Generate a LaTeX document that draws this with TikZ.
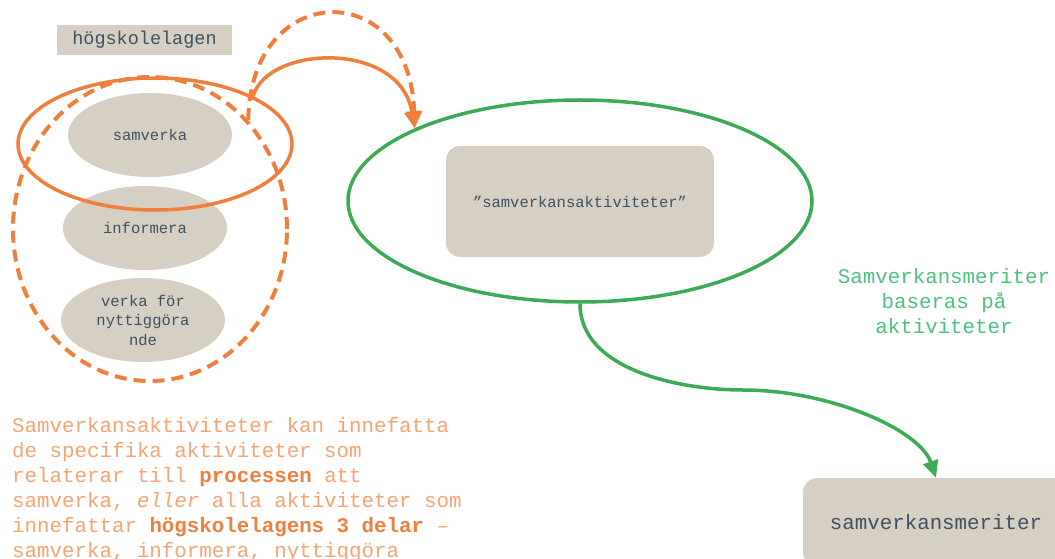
\documentclass[tikz,border=0pt]{standalone}
\usepackage{fontspec}
\setmonofont{Liberation Mono}
\usetikzlibrary{shapes.geometric,arrows.meta}
\definecolor{boxfill}{HTML}{D6D0C4}
\definecolor{boxtext}{HTML}{3F505E}
\definecolor{orng}{HTML}{F07F3C}
\definecolor{orngtxt}{HTML}{F5A475}
\definecolor{grn}{HTML}{3DAA55}
\definecolor{grntxt}{HTML}{4EC27D}
\begin{document}
\begin{tikzpicture}[x=1pt,y=-1pt,
  oval/.style={ellipse, fill=boxfill, draw=none, minimum width=164pt, minimum height=84pt, inner sep=0pt, text=boxtext, font=\ttfamily\fontsize{15.5}{19.5}\selectfont, align=center},
  ring/.style={ellipse, draw=orng, inner sep=0pt, minimum width=274pt},
  rbox/.style={rectangle, rounded corners=14pt, fill=boxfill, draw=none, text=boxtext, inner sep=0pt},
  tip/.style={-{Triangle[length=17pt,width=15pt]}}
]
\useasboundingbox (0,0) rectangle (1055,559);
\clip (0,0) rectangle (1055,559);
% title box
\node[rectangle, fill=boxfill, minimum width=175pt, minimum height=30pt, inner sep=0pt, text=boxtext, font=\ttfamily\fontsize{18.5}{22}\selectfont] (hl) at (144.5,40) {högskolelagen};
% three ellipses
\node[oval] (sam) at (150,135) {samverka};
\node[oval] (inf) at (145,228) {informera};
\node[oval] (ver) at (143,320) {verka för\\nyttiggöra\\nde};
% rings
\node[ring, minimum height=132pt, line width=3.5pt] (so) at (155,144) {};
\node[ring, minimum height=304pt, line width=4pt, dash pattern=on 12pt off 7pt] (sd) at (150,229) {};
% green ellipse and box
\node[ellipse, draw=grn, line width=3.5pt, minimum width=464pt, minimum height=202pt, inner sep=0pt] (ge) at (580,201) {};
\node[rbox, minimum width=268pt, minimum height=111pt, font=\ttfamily\fontsize{15.5}{19.5}\selectfont] (akt) at (580,201.5) {”samverkansaktiviteter”};
\node[rbox, minimum width=266pt, minimum height=88pt, font=\ttfamily\fontsize{20.8}{25}\selectfont] (smer) at (936,522) {samverkansmeriter};
% arrows
\draw[orng, line width=3.5pt, tip] (so.north east) .. controls (268,45) and (400,40) .. (ge.north west);
\draw[orng, line width=4pt, dash pattern=on 12pt off 7pt, tip] (sd.north east) .. controls (250,-20) and (410,-25) .. (ge.north west);
\draw[grn, line width=3.5pt, tip] (ge.south) .. controls (580,370) and (680,390) .. (743,390) .. controls (830,390) and (920,430) .. (smer.north);
% texts
\node[align=center, text=grntxt, inner sep=0pt, font=\ttfamily\fontsize{20.8}{25}\selectfont] (gt) at (944,301) {Samverkansmeriter\\baseras på\\aktiviteter};
\node[anchor=base west, align=left, text=orngtxt, inner sep=0pt, font=\ttfamily\fontsize{20.8}{25}\selectfont] (para) at (12,557) {Samverkansaktiviteter kan innefatta\\de specifika aktiviteter som\\relaterar till \textbf{\textcolor{orng}{processen}} att\\samverka, \textit{eller} alla aktiviteter som\\innefattar \textbf{\textcolor{orng}{högskolelagens 3 delar}} –\\samverka, informera, nyttiggöra};
\end{tikzpicture}
\end{document}
